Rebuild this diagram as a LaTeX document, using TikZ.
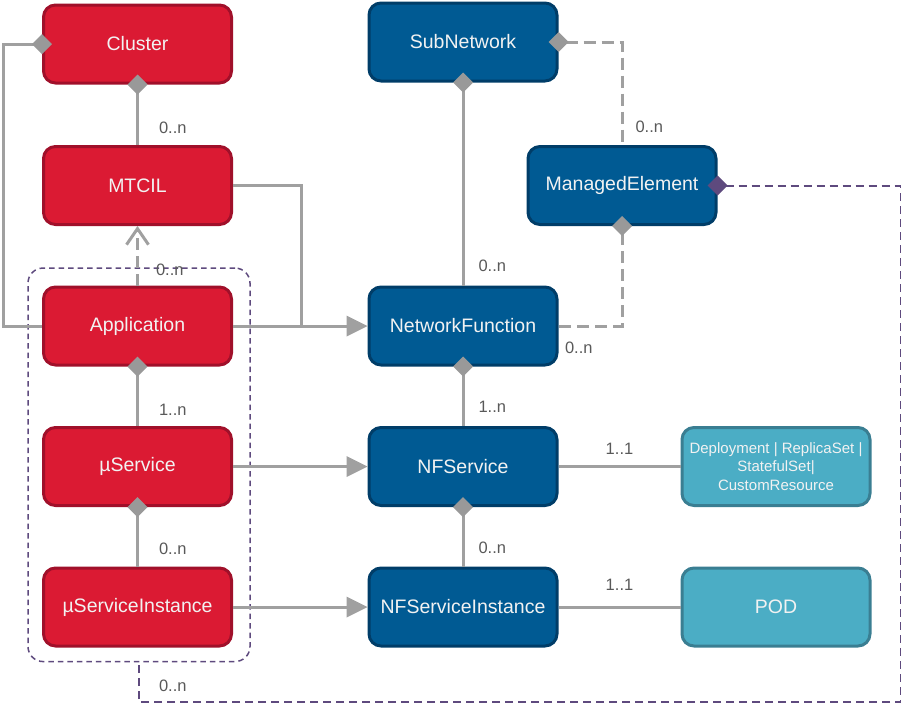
\documentclass[tikz,border=0pt]{standalone}
\usepackage{fontspec}
\setmainfont{Liberation Sans}
\usetikzlibrary{arrows.meta}

\definecolor{appred}{HTML}{DB1A33}
\definecolor{appredline}{HTML}{A0102A}
\definecolor{nfblue}{HTML}{005A93}
\definecolor{nfblueline}{HTML}{003D68}
\definecolor{kubeteal}{HTML}{4BADC5}
\definecolor{kubetealline}{HTML}{3A7E92}
\definecolor{linkgray}{HTML}{A0A0A0}
\definecolor{diagray}{HTML}{999999}
\definecolor{grouppurple}{HTML}{5E4A7E}
\definecolor{labelgray}{HTML}{595959}
\definecolor{boxtext}{HTML}{F2F2F2}

\tikzset{
  box/.style={rectangle, rounded corners=12pt, line width=3pt, minimum width=188pt,
    minimum height=78pt, inner sep=0pt, text=boxtext, font=\fontsize{19.5}{23}\selectfont},
  redbox/.style={box, fill=appred, draw=appredline},
  bluebox/.style={box, fill=nfblue, draw=nfblueline},
  tealbox/.style={box, fill=kubeteal, draw=kubetealline},
  appgroup/.style={rectangle, rounded corners=15pt, draw=grouppurple, line width=1.5pt,
    dash pattern=on 5.5pt off 4pt, minimum width=222pt, minimum height=393.5pt},
  link/.style={draw=linkgray, line width=3pt},
  dlink/.style={link, dash pattern=on 12pt off 6pt},
  plink/.style={draw=grouppurple, line width=2pt, dash pattern=on 8pt off 5pt},
  dstart/.style={{Diamond[length=20pt,width=20pt,line width=0pt,fill=diagray,color=diagray]}-, shorten <=-10pt},
  pstart/.style={{Diamond[length=20pt,width=20pt,line width=0pt,fill=grouppurple,color=grouppurple]}-, shorten <=-10pt},
  arr/.style={-{Triangle[length=21pt,width=21pt,line width=0pt,fill=linkgray,color=linkgray]}},
  openarr/.style={-{Straight Barb[length=16pt,width=22pt,color=linkgray]}},
  mult/.style={text=labelgray, inner sep=1pt, font=\fontsize{16.5}{19}\selectfont}
}

\begin{document}
\begin{tikzpicture}[x=1pt, y=-1pt]
\useasboundingbox (0,0) rectangle (901,707);

\node[appgroup] (grp) at (139,464.8) {};

\node[redbox] (cluster) at (137.5,44) {Cluster};
\node[redbox] (mtcil) at (137.5,185.5) {MTCIL};
\node[redbox] (app) at (137.5,326) {Application};
\node[redbox] (usvc) at (137.5,466.5) {µService};
\node[redbox] (usvcinst) at (137.5,607) {µServiceInstance};

\node[bluebox] (subnet) at (463,42) {SubNetwork};
\node[bluebox] (mgdelem) at (622,185.5) {ManagedElement};
\node[bluebox] (netfn) at (463,326) {NetworkFunction};
\node[bluebox] (nfsvc) at (463,466.5) {NFService};
\node[bluebox] (nfsvcinst) at (463,607) {NFServiceInstance};

\node[tealbox, align=center, font=\fontsize{15}{18.5}\selectfont] (workload) at (776,466.5)
  {Deployment | ReplicaSet |\\StatefulSet|\\CustomResource};
\node[tealbox] (pod) at (776,607) {POD};

\coordinate (join) at (301,326);

\draw[link, dstart] (cluster.west) -- ++(-38.5,0) |- (app.west);
\draw[link, dstart] (cluster.south) -- node[mult, pos=0.71, right=19pt] {0..n} (mtcil.north);
\draw[link] (mtcil.east) -| (join);
\draw[link, arr] (app.east) -- (netfn.west);
\draw[dlink, openarr] (app.north) -- node[mult, pos=0.26, right=16pt] {0..n} (mtcil.south);
\draw[link, dstart] (app.south) -- node[mult, pos=0.72, right=19pt] {1..n} (usvc.north);
\draw[link, dstart] (usvc.south) -- node[mult, pos=0.70, right=19pt] {0..n} (usvcinst.north);
\draw[link, arr] (usvc.east) -- (nfsvc.west);
\draw[link, arr] (usvcinst.east) -- (nfsvcinst.west);

\draw[link, dstart] (subnet.south) -- node[mult, pos=0.905, right=13pt] {0..n} (netfn.north);
\draw[dlink, dstart] (subnet.east) -| node[mult, pos=0.91, right=11pt] {0..n} (mgdelem.north);
\draw[dlink, dstart] (mgdelem.south) |- node[mult, pos=1, anchor=north west, xshift=4pt, yshift=-13pt] {0..n} (netfn.east);
\draw[link, dstart] (netfn.south) -- node[mult, pos=0.67, right=13pt] {1..n} (nfsvc.north);
\draw[link, dstart] (nfsvc.south) -- node[mult, pos=0.685, right=13pt] {0..n} (nfsvcinst.north);
\draw[link] (nfsvc.east) -- node[mult, above=10pt] {1..1} (workload.west);
\draw[link] (nfsvcinst.east) -- node[mult, above=14pt] {1..1} (pod.west);

\draw[plink, pstart] (mgdelem.east) -- ++(183,0) -- ++(0,516.5) -| node[mult, pos=0.7, right=18pt] {0..n} (grp.south);
\end{tikzpicture}
\end{document}
